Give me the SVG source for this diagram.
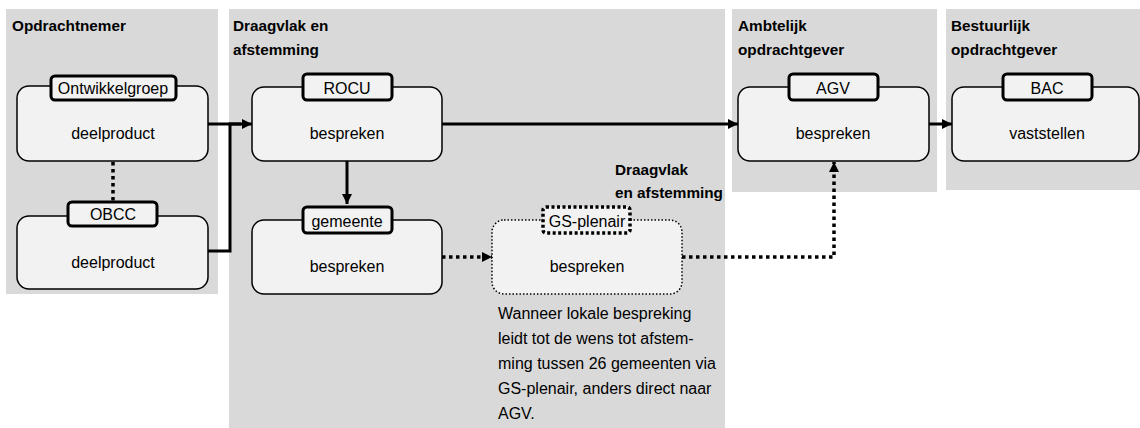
<svg xmlns="http://www.w3.org/2000/svg" width="1140" height="428" viewBox="0 0 1140 428">
<style>
.panel{fill:#d9d9d9}
.node{fill:#f2f2f2;stroke:#000;stroke-width:1.5}
.tab{fill:#f2f2f2;stroke:#000;stroke-width:3}
.dotted{stroke-dasharray:1.5 2}
.tabdot{fill:#f2f2f2;stroke:#000;stroke-width:3.5;stroke-dasharray:3 2.5}
.t{font-family:"Liberation Sans",Arial,sans-serif;font-size:16px;fill:#000}
.c{text-anchor:middle}
.h{font-family:"Liberation Sans",Arial,sans-serif;font-size:15.3px;font-weight:bold;fill:#000}
.line{fill:none;stroke:#000;stroke-width:3}
.dline{fill:none;stroke:#000;stroke-width:3.5;stroke-dasharray:3.5 3.5}
</style>
<defs>
<marker id="arr" viewBox="0 0 10 10" refX="10" refY="5" markerWidth="10" markerHeight="10" markerUnits="userSpaceOnUse" orient="auto">
<path d="M0,0 L10,5 L0,10 Z" fill="#000"/>
</marker>
</defs>
<g id="panels">
<rect class="panel" x="6" y="9" width="212" height="285"/>
<rect class="panel" x="229" y="9" width="496" height="419"/>
<rect class="panel" x="732" y="9" width="205" height="183"/>
<rect class="panel" x="946" y="9" width="194" height="181"/>
<text class="h" x="12" y="31">Opdrachtnemer</text>
<text class="h" x="233" y="31">Draagvlak en</text>
<text class="h" x="233" y="55">afstemming</text>
<text class="h" x="738" y="31">Ambtelijk</text>
<text class="h" x="738" y="55">opdrachtgever</text>
<text class="h" x="951" y="31">Bestuurlijk</text>
<text class="h" x="951" y="55">opdrachtgever</text>
<text class="h" x="615" y="175">Draagvlak</text>
<text class="h" x="615" y="198">en afstemming</text>
</g>
<g id="connectors">
<line x1="113" y1="162" x2="113" y2="202" class="dline"/>
<polyline class="line" points="208,124 230,124"/>
<polyline class="line" points="208,251 230,251 230,124 241,124"/>
<line x1="230" y1="124" x2="252" y2="124" stroke="#000" stroke-width="3" marker-end="url(#arr)"/>
<line x1="442" y1="124" x2="738" y2="124" stroke="#000" stroke-width="3" marker-end="url(#arr)"/>
<line x1="929" y1="124" x2="952" y2="124" stroke="#000" stroke-width="3" marker-end="url(#arr)"/>
<line x1="347" y1="161" x2="347" y2="204" stroke="#000" stroke-width="3" marker-end="url(#arr)"/>
<line x1="442" y1="257" x2="492" y2="257" class="dline" marker-end="url(#arr)"/>
<polyline class="dline" points="682,257 834,257 834,162" marker-end="url(#arr)"/>
</g>
<g id="ontwikkelgroep">
<rect class="node" x="17" y="86" width="191" height="75" rx="12"/>
<rect class="tab" x="51" y="76" width="125" height="24" rx="4"/>
<text class="t c" x="113" y="94">Ontwikkelgroep</text>
<text class="t c" x="113" y="139">deelproduct</text>
</g>
<g id="obcc">
<rect class="node" x="17" y="216" width="191" height="73" rx="12"/>
<rect class="tab" x="68" y="202" width="89" height="24" rx="4"/>
<text class="t c" x="113" y="220">OBCC</text>
<text class="t c" x="113" y="268">deelproduct</text>
</g>
<g id="rocu">
<rect class="node" x="252" y="87" width="190" height="74" rx="12"/>
<rect class="tab" x="303" y="74" width="89" height="26" rx="4"/>
<text class="t c" x="347" y="94">ROCU</text>
<text class="t c" x="347" y="139">bespreken</text>
</g>
<g id="gemeente">
<rect class="node" x="252" y="220" width="190" height="74" rx="12"/>
<rect class="tab" x="303" y="207" width="89" height="26" rx="4"/>
<text class="t c" x="347" y="227">gemeente</text>
<text class="t c" x="347" y="272">bespreken</text>
</g>
<g id="gs-plenair">
<rect class="node dotted" x="492" y="220" width="190" height="74" rx="12"/>
<rect class="tabdot" x="543" y="207" width="87" height="26" rx="3"/>
<text class="t c" x="587" y="227">GS-plenair</text>
<text class="t c" x="587" y="272">bespreken</text>
</g>
<g id="note">
<text class="t" x="498" y="319">Wanneer lokale bespreking</text>
<text class="t" x="498" y="344">leidt tot de wens tot afstem-</text>
<text class="t" x="498" y="369">ming tussen 26 gemeenten via</text>
<text class="t" x="498" y="394">GS-plenair, anders direct naar</text>
<text class="t" x="498" y="419">AGV.</text>
</g>
<g id="agv">
<rect class="node" x="738" y="87" width="191" height="74" rx="12"/>
<rect class="tab" x="789" y="74" width="89" height="26" rx="4"/>
<text class="t c" x="833" y="94">AGV</text>
<text class="t c" x="833" y="139">bespreken</text>
</g>
<g id="bac">
<rect class="node" x="952" y="87" width="187" height="74" rx="12"/>
<rect class="tab" x="1003" y="74" width="89" height="26" rx="4"/>
<text class="t c" x="1047" y="94">BAC</text>
<text class="t c" x="1047" y="139">vaststellen</text>
</g>
</svg>
